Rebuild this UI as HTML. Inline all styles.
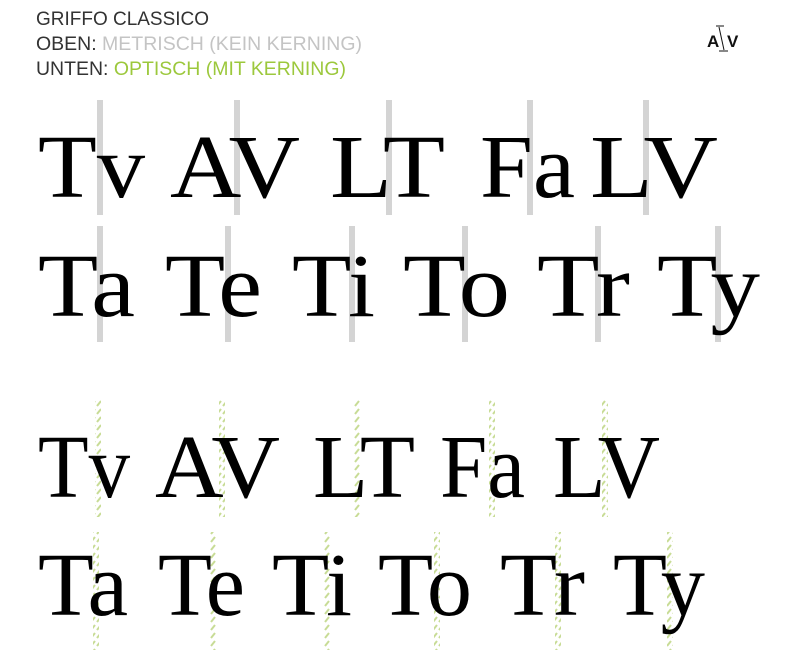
<!DOCTYPE html>
<html><head><meta charset="utf-8"><style>
html,body{margin:0;padding:0;background:#fff;width:800px;height:661px;overflow:hidden}
</style></head><body>
<svg width="800" height="661" xmlns="http://www.w3.org/2000/svg">
<defs>
<pattern id="dash" width="6" height="8" patternUnits="userSpaceOnUse">
<line x1="1" y1="6" x2="5" y2="1" stroke="#c8dc96" stroke-width="2"/>
</pattern>
</defs>
<g font-family="Liberation Sans, DejaVu Sans, sans-serif" font-size="19" textLength="0">
<text x="36" y="25" fill="#333" textLength="173" lengthAdjust="spacingAndGlyphs">GRIFFO CLASSICO</text>
<text x="36" y="50" fill="#333" textLength="326" lengthAdjust="spacingAndGlyphs">OBEN: <tspan fill="#c4c4c4">METRISCH (KEIN KERNING)</tspan></text>
<text x="36" y="75" fill="#333" textLength="310" lengthAdjust="spacingAndGlyphs">UNTEN: <tspan fill="#9cc83c">OPTISCH (MIT KERNING)</tspan></text>
</g>
<g font-family="Liberation Sans, sans-serif" font-weight="bold" font-size="17" fill="#111">
<text x="707" y="47">A</text><text x="727" y="47">V</text>
</g>
<line x1="719" y1="27" x2="724" y2="50" stroke="#111" stroke-width="1"/>
<line x1="716" y1="26" x2="724" y2="26" stroke="#111"/>
<line x1="719" y1="51" x2="728" y2="51" stroke="#111"/>
<g fill="#d4d4d4">
<rect x="97" y="100" width="6" height="115"/><rect x="234" y="100" width="6" height="115"/><rect x="386" y="100" width="6" height="115"/><rect x="527" y="100" width="6" height="115"/><rect x="643" y="100" width="6" height="115"/>
<rect x="97" y="226" width="6" height="116"/><rect x="225" y="226" width="6" height="116"/><rect x="349" y="226" width="6" height="116"/><rect x="462" y="226" width="6" height="116"/><rect x="595" y="226" width="6" height="116"/><rect x="715" y="226" width="6" height="116"/>
</g>
<g fill="url(#dash)">
<rect x="95" y="399" width="6" height="118"/><rect x="219" y="399" width="6" height="118"/><rect x="354" y="399" width="6" height="118"/><rect x="489" y="399" width="6" height="118"/><rect x="602" y="399" width="6" height="118"/>
<rect x="93" y="532" width="6" height="118"/><rect x="210" y="532" width="6" height="118"/><rect x="324" y="532" width="6" height="118"/><rect x="434" y="532" width="6" height="118"/><rect x="555" y="532" width="6" height="118"/><rect x="667" y="532" width="6" height="118"/>
</g>
<g font-family="Liberation Serif, serif" font-size="90" fill="#000">
<text x="38" y="197" textLength="107" lengthAdjust="spacingAndGlyphs">Tv</text>
<text x="170" y="197" textLength="130" lengthAdjust="spacingAndGlyphs">AV</text>
<text x="330" y="197" textLength="115" lengthAdjust="spacingAndGlyphs">LT</text>
<text x="480" y="197" textLength="95" lengthAdjust="spacingAndGlyphs">Fa</text>
<text x="590" y="197" textLength="128" lengthAdjust="spacingAndGlyphs">LV</text>
<text x="38" y="316" textLength="97" lengthAdjust="spacingAndGlyphs">Ta</text>
<text x="165" y="316" textLength="97" lengthAdjust="spacingAndGlyphs">Te</text>
<text x="292" y="316" textLength="83" lengthAdjust="spacingAndGlyphs">Ti</text>
<text x="403" y="316" textLength="107" lengthAdjust="spacingAndGlyphs">To</text>
<text x="537" y="316" textLength="93" lengthAdjust="spacingAndGlyphs">Tr</text>
<text x="657" y="316" textLength="103" lengthAdjust="spacingAndGlyphs">Ty</text>
<text x="38" y="497" textLength="92" lengthAdjust="spacingAndGlyphs">Tv</text>
<text x="155" y="497" textLength="125" lengthAdjust="spacingAndGlyphs">AV</text>
<text x="313" y="497" textLength="102" lengthAdjust="spacingAndGlyphs">LT</text>
<text x="440" y="497" textLength="85" lengthAdjust="spacingAndGlyphs">Fa</text>
<text x="553" y="497" textLength="107" lengthAdjust="spacingAndGlyphs">LV</text>
<text x="38" y="615" textLength="90" lengthAdjust="spacingAndGlyphs">Ta</text>
<text x="158" y="615" textLength="87" lengthAdjust="spacingAndGlyphs">Te</text>
<text x="272" y="615" textLength="80" lengthAdjust="spacingAndGlyphs">Ti</text>
<text x="378" y="615" textLength="94" lengthAdjust="spacingAndGlyphs">To</text>
<text x="500" y="615" textLength="85" lengthAdjust="spacingAndGlyphs">Tr</text>
<text x="613" y="615" textLength="92" lengthAdjust="spacingAndGlyphs">Ty</text>
</g>
</svg>
</body></html>
